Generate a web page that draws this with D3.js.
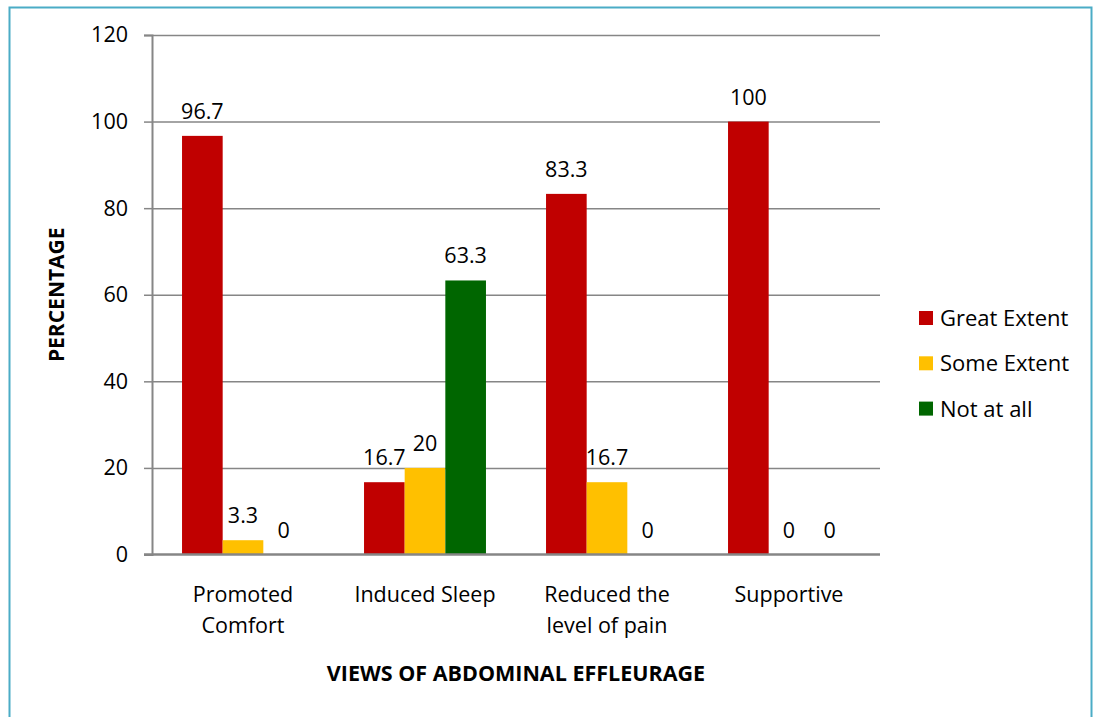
<!DOCTYPE html>
<html>
<head>
<meta charset="utf-8">
<script src="https://cdn.jsdelivr.net/npm/d3@7"></script>
<style>
  html, body { margin: 0; padding: 0; background: #fff; }
  svg { display: block; }
  text { font-family: "Open Sans", sans-serif; fill: #000; }
</style>
</head>
<body>
<svg id="chart" width="1093" height="717"></svg>
<script>
const categories = [["Promoted", "Comfort"], ["Induced Sleep"], ["Reduced the", "level of pain"], ["Supportive"]];
const seriesNames = ["Great Extent", "Some Extent", "Not at all"];
const greatExtent = [96.7, 16.7, 83.3, 100];
const someExtent = [3.3, 20, 16.7, 0];
const notAtAll = [0, 63.3, 0, 0];
const yTicks = [0, 20, 40, 60, 80, 100, 120];
const colors = ["#C00000", "#FFC000", "#006600"];

const series = [greatExtent, someExtent, notAtAll];

const svg = d3.select("#chart");
const FS = 21.5;

// frame
svg.append("rect").attr("x", 9.5).attr("y", 7.5).attr("width", 1082).attr("height", 720)
  .attr("fill", "none").attr("stroke", "#4BACC6").attr("stroke-width", 2);

const plot = { left: 152, right: 880, top: 35, bottom: 554.5 };

const x0 = d3.scaleBand().domain(d3.range(categories.length))
  .range([plot.left, plot.right]).paddingInner(0.33).paddingOuter(0.165);
const x1 = d3.scaleBand().domain(d3.range(series.length)).range([0, x0.bandwidth()]);
const y = d3.scaleLinear().domain([0, 120]).range([plot.bottom, plot.top]);

// y axis
const yAxis = d3.axisLeft(y).tickValues(yTicks).tickSize(8).tickPadding(16).tickFormat(d3.format("d"));
const gy = svg.append("g").attr("transform", `translate(${plot.left},0)`).call(yAxis);
gy.select(".domain").attr("stroke", "#868686").attr("stroke-width", 2);
gy.selectAll(".tick line").attr("stroke", "#868686").attr("stroke-width", 1.5);
gy.selectAll(".tick text").style("font-size", FS + "px").style("font-family", "'Open Sans', sans-serif").attr("fill", "#000");

// gridlines
const grid = d3.axisLeft(y).tickValues(yTicks.filter(d => d > 0)).tickSize(-(plot.right - plot.left)).tickFormat("");
const gg = svg.append("g").attr("transform", `translate(${plot.left},0)`).call(grid);
gg.select(".domain").remove();
gg.selectAll(".tick line").attr("stroke", "#868686").attr("stroke-width", 1.5);

// bars
const groups = svg.append("g").selectAll("g").data(categories).join("g")
  .attr("transform", (d, i) => `translate(${x0(i)},0)`);

groups.each(function(cat, ci) {
  const g = d3.select(this);
  series.forEach((s, si) => {
    const v = s[ci];
    g.append("rect")
      .attr("x", x1(si)).attr("width", x1.bandwidth())
      .attr("y", y(v)).attr("height", y(0) - y(v))
      .attr("fill", colors[si]);
    g.append("text")
      .attr("x", x1(si) + x1.bandwidth() / 2)
      .attr("y", y(v) - 17)
      .attr("text-anchor", "middle")
      .style("font-size", FS + "px")
      .text(v);
  });
});

// x axis line
const xAxis = d3.axisBottom(x0).tickSize(0).tickFormat("");
const gx = svg.append("g").attr("transform", `translate(0,${plot.bottom})`).call(xAxis);
gx.select(".domain").attr("stroke", "#868686").attr("stroke-width", 2.5).attr("d", `M${plot.left - 8},0H${plot.right}`);

// category labels
categories.forEach((lines, i) => {
  const cx = x0(i) + x0.bandwidth() / 2;
  const t = svg.append("text")
    .attr("x", cx)
    .attr("y", 602)
    .attr("text-anchor", "middle")
    .style("font-size", FS + "px");
  lines.forEach((l, li) => {
    t.append("tspan").attr("x", cx).attr("dy", li === 0 ? 0 : 31).text(l);
  });
});

// axis titles
svg.append("text")
  .attr("transform", `translate(64,${(plot.top + plot.bottom) / 2}) rotate(-90)`)
  .attr("text-anchor", "middle")
  .style("font-size", "21px").style("font-weight", "bold")
  .text("PERCENTAGE");

svg.append("text")
  .attr("x", (plot.left + plot.right) / 2).attr("y", 681)
  .attr("text-anchor", "middle")
  .style("font-size", "21.5px").style("font-weight", "bold")
  .text("VIEWS OF ABDOMINAL EFFLEURAGE");

// legend
const legend = svg.append("g").attr("transform", "translate(919,311)");
seriesNames.forEach((n, i) => {
  const row = legend.append("g").attr("transform", `translate(0,${i * 45.3})`);
  row.append("rect").attr("width", 14).attr("height", 14).attr("fill", colors[i]);
  row.append("text").attr("x", 21).attr("y", 15).style("font-size", "22px").text(n);
});
</script>
</body>
</html>
